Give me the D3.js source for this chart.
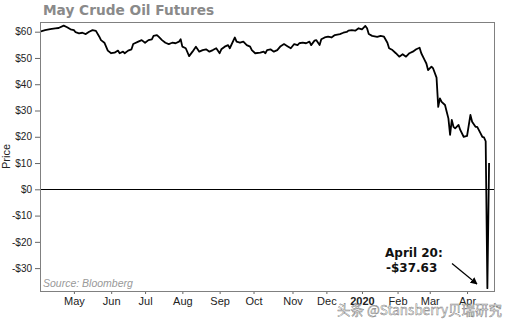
<!DOCTYPE html>
<html>
<head>
<meta charset="utf-8">
<script src="https://cdn.jsdelivr.net/npm/d3@7"></script>
<style>
  html, body { margin: 0; padding: 0; background: #fff; }
  svg { display: block; }
</style>
</head>
<body>
<svg id="chart" width="510" height="325"></svg>
<script>
// ---------- data ----------
const dates = [
"2019-04-02","2019-04-05","2019-04-10","2019-04-15","2019-04-17","2019-04-23","2019-04-25","2019-04-29",
"2019-05-01","2019-05-02","2019-05-06","2019-05-08","2019-05-10","2019-05-14","2019-05-16","2019-05-20",
"2019-05-22","2019-05-23","2019-05-28","2019-05-30","2019-06-03","2019-06-05","2019-06-07","2019-06-10",
"2019-06-12","2019-06-13","2019-06-17","2019-06-19","2019-06-20","2019-06-25","2019-06-27","2019-07-01",
"2019-07-03","2019-07-08","2019-07-09","2019-07-11","2019-07-12","2019-07-16","2019-07-18","2019-07-22",
"2019-07-24","2019-07-26","2019-07-30","2019-07-31","2019-08-01","2019-08-05","2019-08-07","2019-08-09",
"2019-08-13","2019-08-15","2019-08-19","2019-08-21","2019-08-23","2019-08-27","2019-08-29","2019-09-03",
"2019-09-04","2019-09-06","2019-09-10","2019-09-11","2019-09-16","2019-09-17","2019-09-19","2019-09-23",
"2019-09-25","2019-09-27","2019-09-30","2019-10-02","2019-10-07","2019-10-09","2019-10-10","2019-10-11",
"2019-10-15","2019-10-17","2019-10-21","2019-10-23","2019-10-25","2019-10-29","2019-10-31","2019-11-04",
"2019-11-06","2019-11-07","2019-11-11","2019-11-13","2019-11-15","2019-11-18","2019-11-20","2019-11-21",
"2019-11-25","2019-11-26","2019-11-29","2019-12-03","2019-12-05","2019-12-09","2019-12-12","2019-12-16",
"2019-12-18","2019-12-19","2019-12-23","2019-12-26","2019-12-30","2020-01-02","2020-01-06","2020-01-07",
"2020-01-08","2020-01-10","2020-01-15","2020-01-17","2020-01-22","2020-01-24","2020-01-27","2020-01-29",
"2020-01-31","2020-02-04","2020-02-06","2020-02-10","2020-02-12","2020-02-14","2020-02-19","2020-02-21",
"2020-02-24","2020-02-26","2020-02-27","2020-02-28","2020-03-03","2020-03-04","2020-03-06","2020-03-09",
"2020-03-10","2020-03-11","2020-03-13","2020-03-16","2020-03-17","2020-03-18","2020-03-19","2020-03-20",
"2020-03-23","2020-03-25","2020-03-26","2020-03-30","2020-04-01","2020-04-03","2020-04-06","2020-04-08",
"2020-04-09","2020-04-14","2020-04-15","2020-04-16","2020-04-17","2020-04-20","2020-04-21"
];
const prices = [
60.0,60.6,61.0,61.3,61.4,62.3,61.7,60.9,
60.6,59.8,59.4,59.6,59.1,60.0,60.6,60.3,
58.1,56.8,55.8,52.8,51.8,52.0,52.8,51.8,
52.4,51.8,52.8,53.3,55.3,56.2,56.8,55.8,
56.8,57.1,58.4,58.7,58.1,56.8,55.8,55.3,
55.8,55.6,56.2,57.1,54.3,53.7,50.7,52.4,
54.3,52.4,53.0,53.3,52.4,53.0,53.7,51.8,
53.3,54.3,54.9,53.7,57.8,56.2,55.8,56.2,
54.9,54.3,53.0,51.8,52.0,52.4,51.8,53.0,
53.3,52.4,53.0,54.5,55.3,54.5,53.7,55.3,
54.9,55.6,55.8,55.6,56.2,54.9,56.6,56.8,
54.9,57.1,57.8,58.1,57.8,58.7,59.1,59.6,
59.9,60.4,60.6,60.4,61.3,60.9,62.2,61.3,
59.1,58.4,58.0,58.4,58.1,55.8,53.7,53.0,
51.8,50.5,51.4,50.5,51.8,52.4,53.3,53.9,
51.8,49.2,47.9,45.4,46.7,46.0,42.5,31.4,
34.6,33.3,32.1,29.5,27.0,20.7,26.4,23.8,
23.2,24.5,22.6,20.0,20.3,28.3,25.7,23.8,
23.8,21.3,20.0,19.8,18.3,-37.63,10.01
];
const exchangeHolidays = ["2019-04-19","2019-05-27","2019-07-04","2019-09-02","2019-11-28",
  "2019-12-25","2020-01-01","2020-01-20","2020-02-17","2020-04-10"];
const monthLabels = ["May","Jun","Jul","Aug","Sep","Oct","Nov","Dec","2020","Feb","Mar","Apr"];
const yTicks = [-30,-20,-10,0,10,20,30,40,50,60];

// ---------- trading calendar (x axis is trading-day based) ----------
const fmt = d3.utcFormat("%Y-%m-%d");
const parse = d3.utcParse("%Y-%m-%d");
const hol = new Set(exchangeHolidays);
const allDays = d3.utcDay.range(parse("2019-04-02"), parse("2020-04-22"));
const tradingDays = allDays.filter(d => d.getUTCDay() !== 0 && d.getUTCDay() !== 6 && !hol.has(fmt(d)));
const idxOf = new Map(tradingDays.map((d, i) => [fmt(d), i]));
const lastIdx = tradingDays.length - 1;

// first trading day of each month from May 2019 to Apr 2020
const monthTickIdx = [];
tradingDays.forEach((d, i) => {
  const prev = tradingDays[i - 1];
  if (prev && prev.getUTCMonth() !== d.getUTCMonth()) monthTickIdx.push(i);
});

const series = dates.map((d, i) => ({ i: idxOf.get(d), v: prices[i] }));

// ---------- layout ----------
const L = 40, R = 495, T = 22, B = 291;
const svg = d3.select("#chart");

const x = d3.scaleLinear().domain([0, lastIdx + 3.5]).range([L, R]);
const y = d3.scaleLinear().domain([-38.71, 63.69]).range([B, T]);

// title
svg.append("text")
  .attr("x", 43).attr("y", 15)
  .attr("font-family", "DejaVu Sans, Verdana, sans-serif")
  .attr("font-weight", "bold")
  .attr("font-size", 13.7)
  .attr("fill", "#8a8a8a")
  .text("May Crude Oil Futures");

// clip
svg.append("clipPath").attr("id", "plotclip")
  .append("rect").attr("x", L).attr("y", T).attr("width", R - L).attr("height", B - T);

// y axis
const yAxis = svg.append("g")
  .attr("transform", `translate(${L},0)`)
  .call(d3.axisLeft(y).tickValues(yTicks).tickSize(5).tickPadding(3)
    .tickFormat(v => v < 0 ? "-$" + (-v) : "$" + v));
yAxis.select(".domain").remove();
yAxis.selectAll(".tick line").attr("stroke", "#666");
yAxis.selectAll(".tick text")
  .attr("font-family", "Liberation Sans, Arial, sans-serif")
  .attr("font-size", 10).attr("fill", "#222");

// x axis
const xAxis = svg.append("g")
  .attr("transform", `translate(0,${B})`)
  .call(d3.axisBottom(x).tickValues(monthTickIdx).tickSize(3).tickPadding(3)
    .tickFormat((d, i) => monthLabels[i]));
xAxis.select(".domain").remove();
xAxis.selectAll(".tick line").attr("stroke", "#666");
xAxis.selectAll(".tick text")
  .attr("font-family", "Liberation Sans, Arial, sans-serif")
  .attr("font-size", 11).attr("fill", "#222")
  .attr("font-weight", (d, i) => monthLabels[i] === "2020" ? "bold" : "normal");

// y label
svg.append("text")
  .attr("transform", `translate(10,${(T + B) / 2}) rotate(-90)`)
  .attr("text-anchor", "middle")
  .attr("font-family", "Liberation Sans, Arial, sans-serif")
  .attr("font-size", 11).attr("fill", "#222")
  .text("Price");

// zero line
svg.append("line")
  .attr("x1", L).attr("x2", R)
  .attr("y1", Math.round(y(0)) + 0.5).attr("y2", Math.round(y(0)) + 0.5)
  .attr("stroke", "#000").attr("stroke-width", 1);

// price line
svg.append("path")
  .datum(series)
  .attr("clip-path", "url(#plotclip)")
  .attr("fill", "none")
  .attr("stroke", "#000")
  .attr("stroke-width", 1.8)
  .attr("stroke-linejoin", "round")
  .attr("d", d3.line().x(d => x(d.i)).y(d => y(d.v)));

// frame
svg.append("rect")
  .attr("x", L + 0.5).attr("y", T + 0.5)
  .attr("width", R - L - 1).attr("height", B - T)
  .attr("fill", "none").attr("stroke", "#808080").attr("stroke-width", 1);

// source
svg.append("text")
  .attr("x", 43).attr("y", 287)
  .attr("font-family", "Liberation Sans, Arial, sans-serif")
  .attr("font-style", "italic")
  .attr("font-size", 10.5).attr("fill", "#999")
  .text("Source: Bloomberg");

// annotation
const ann = svg.append("g")
  .attr("font-family", "DejaVu Sans, Verdana, sans-serif")
  .attr("font-weight", "bold").attr("font-size", 12).attr("fill", "#111");
ann.append("text").attr("x", 385).attr("y", 256.5).text("April 20:");
ann.append("text").attr("x", 386).attr("y", 271.5).text("-$37.63");

svg.append("defs").append("marker")
  .attr("id", "arrowhead").attr("viewBox", "0 0 10 10")
  .attr("refX", 9).attr("refY", 5)
  .attr("markerWidth", 7).attr("markerHeight", 7)
  .attr("markerUnits", "userSpaceOnUse")
  .attr("orient", "auto")
  .append("path").attr("d", "M0,0 L10,5 L0,10 z").attr("fill", "#000");
svg.append("line")
  .attr("x1", 452).attr("y1", 263.5).attr("x2", 477).attr("y2", 284)
  .attr("stroke", "#000").attr("stroke-width", 1.2)
  .attr("marker-end", "url(#arrowhead)");

// watermark
svg.append("text")
  .attr("x", 337).attr("y", 315)
  .attr("font-family", "Noto Sans CJK SC, Noto Sans, sans-serif")
  .attr("font-size", 13.5)
  .attr("fill", "#fff").attr("fill-opacity", 0.9)
  .attr("stroke", "#555").attr("stroke-width", 0.5).attr("stroke-opacity", 0.8)
  .text("头条 @Stansberry贝瑞研究");
</script>
</body>
</html>
